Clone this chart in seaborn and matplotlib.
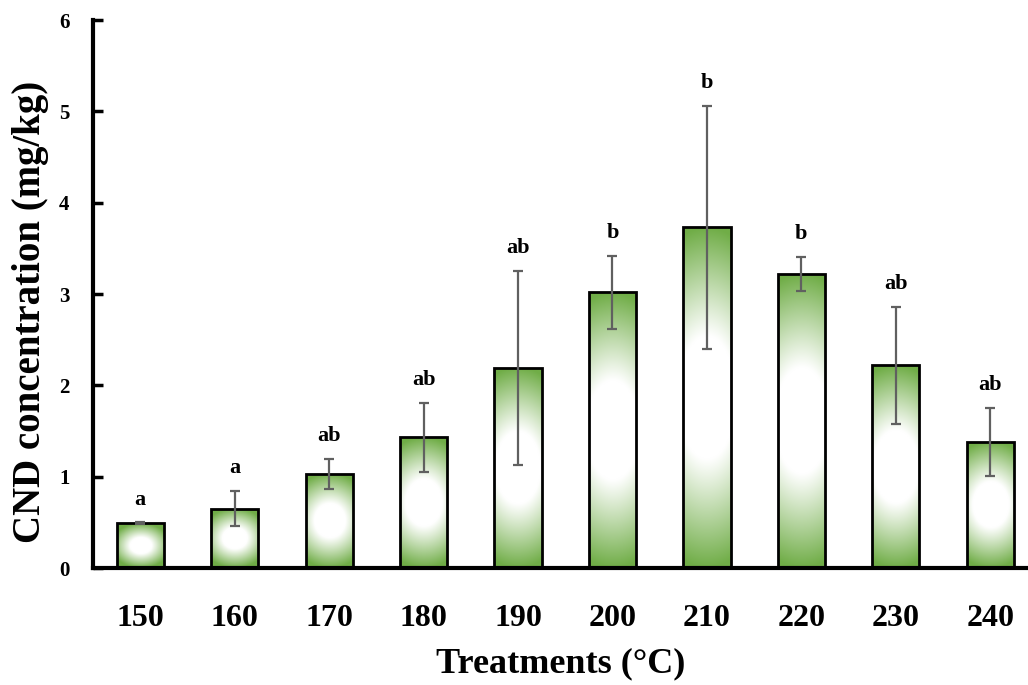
import matplotlib
matplotlib.use("Agg")
import matplotlib.pyplot as plt
import numpy as np
import seaborn as sns
from matplotlib.colors import to_rgb

# Data
treatments = ["150", "160", "170", "180", "190", "200", "210", "220", "230", "240"]
cnd_mean = [0.49, 0.65, 1.03, 1.43, 2.19, 3.02, 3.73, 3.22, 2.22, 1.38]
cnd_sd = [0.01, 0.19, 0.16, 0.38, 1.06, 0.40, 1.33, 0.19, 0.64, 0.37]
letters = ["a", "a", "ab", "ab", "ab", "b", "b", "b", "ab", "ab"]

sns.set_style("ticks", {"axes.edgecolor": "black", "text.color": "black",
                        "xtick.color": "black", "ytick.color": "black",
                        "axes.labelcolor": "black"})
plt.rcParams["font.family"] = ["Liberation Serif", "DejaVu Serif"]
plt.rcParams["font.weight"] = "bold"

fig = plt.figure(figsize=(10.28, 6.85), dpi=100)
ax = fig.add_axes([0.0905, 0.1708, 0.9095, 0.80])

sns.barplot(x=treatments, y=cnd_mean, color="white", edgecolor="black",
            linewidth=2.0, width=0.5, ax=ax, zorder=3)

ax.set_ylim(0, 6)
ax.set_xlim(-0.5, 9.4)

# gradient fill: green at the edges fading to white in the centre
green = np.array(to_rgb("#70AD47"))
white = np.ones(3)
ny, nx = 300, 60
u = np.linspace(-1, 1, nx)[None, :]
v = np.linspace(-1, 1, ny)[:, None]
px_per_x = ax.get_position().width * fig.get_figwidth() * fig.dpi / 9.9
px_per_y = ax.get_position().height * fig.get_figheight() * fig.dpi / 6.0
for patch in ax.patches:
    x0, y0 = patch.get_x(), patch.get_y()
    w, h = patch.get_width(), patch.get_height()
    aspect = (w * px_per_x) / (h * px_per_y)
    a = min(0.75, 0.6 * aspect)
    t = np.sqrt(a * u ** 2 + v ** 2)
    amt = np.clip((t - 0.36) / 0.64, 0, 1) ** 1.05
    img = white[None, None, :] * (1 - amt[..., None]) + green[None, None, :] * amt[..., None]
    im = ax.imshow(img, extent=[x0, x0 + w, y0, y0 + h], origin="lower",
                   aspect="auto", zorder=2, interpolation="bilinear")
    im.set_clip_path(patch)
    patch.set_facecolor("none")

xs = np.arange(len(treatments))
ax.errorbar(xs, cnd_mean, yerr=cnd_sd, fmt="none", ecolor="#606060",
            elinewidth=1.6, capsize=3.8, capthick=1.6, zorder=4)

for xi, m, s, lab in zip(xs, cnd_mean, cnd_sd, letters):
    ax.text(xi, m + s + 0.25, lab, ha="center", va="center",
            fontsize=16, fontweight="bold")

ax.set_xlim(-0.5, 9.4)
ax.set_yticks(range(0, 7))
ax.tick_params(axis="y", direction="in", length=7, width=2.5, labelsize=15, pad=17)
ax.tick_params(axis="x", length=0, labelsize=23, pad=26)
for lab in ax.get_xticklabels() + ax.get_yticklabels():
    lab.set_fontweight("bold")

for side in ["top", "right"]:
    ax.spines[side].set_visible(False)
ax.spines["left"].set_linewidth(3)
ax.spines["bottom"].set_linewidth(3)

ax.set_xlabel("Treatments (°C)", fontsize=26, fontweight="bold", labelpad=10)
ax.set_ylabel("CND concentration (mg/kg)", fontsize=28, fontweight="bold")
ax.yaxis.set_label_coords(-0.047, 0.467)

fig.savefig("out.png", dpi=100)
